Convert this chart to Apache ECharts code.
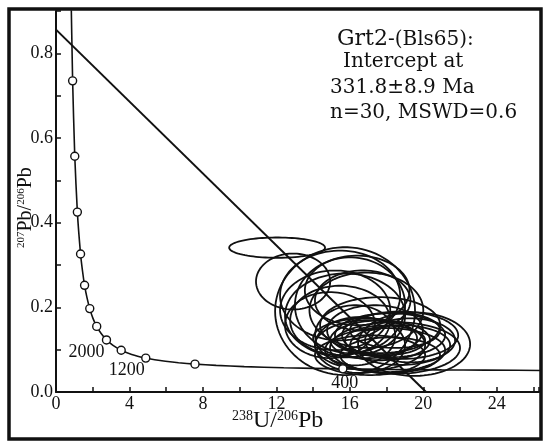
<!DOCTYPE html>
<html>
<head>
<meta charset="utf-8">
<script src="https://cdn.jsdelivr.net/npm/echarts@6/dist/echarts.min.js"></script>
<style>
html,body{margin:0;padding:0;background:#fff;}
#c{width:550px;height:447px;}
</style>
</head>
<body>
<div id="c"></div>
<script>
// Concordia curve points (238U/206Pb, 207Pb/206Pb)
const concordiaX = [0.806, 0.905, 1.022, 1.163, 1.337, 1.440, 1.556, 1.687, 1.838, 2.013, 2.217, 2.459, 2.749, 3.105, 3.550, 4.123, 4.888, 5.375, 5.959, 6.674, 7.568, 8.718, 10.25, 12.40, 15.62, 17.92, 20.99, 23.38, 27.0];
const concordiaY = [0.973, 0.735, 0.557, 0.425, 0.326, 0.287, 0.252, 0.223, 0.197, 0.174, 0.155, 0.138, 0.123, 0.110, 0.0987, 0.0888, 0.0801, 0.0762, 0.0725, 0.0690, 0.0658, 0.0628, 0.0599, 0.0572, 0.0547, 0.0535, 0.0523, 0.0517, 0.0508];
// Age markers (Ma) on the concordia
const ageLabels = [4800, 4400, 4000, 3600, 3200, 2800, 2400, 2000, 1600, 1200, 800, 400];
const ageX = [0.905, 1.022, 1.163, 1.337, 1.556, 1.838, 2.217, 2.749, 3.550, 4.888, 7.568, 15.62];
const ageY = [0.735, 0.557, 0.425, 0.326, 0.252, 0.197, 0.155, 0.123, 0.0987, 0.0801, 0.0658, 0.0547];
const shownAges = [2000, 1200, 400];
// Discordia line
const discordiaX = [0, 20.15];
const discordiaY = [0.856, 0];
// Error ellipses: centres and half-widths
const ellX = [12.04, 12.91, 15.74, 15.47, 16.01, 15.20, 16.40, 15.74, 16.70, 15.47, 16.90, 14.92, 19.50, 18.19, 17.65, 18.46, 17.10, 18.74, 17.92, 17.37, 16.56, 18.74, 18.19, 16.83, 19.28, 17.65, 16.29, 18.46, 17.10, 17.92];
const ellY = [0.341, 0.261, 0.191, 0.228, 0.205, 0.193, 0.240, 0.181, 0.216, 0.169, 0.193, 0.158, 0.113, 0.134, 0.122, 0.146, 0.111, 0.111, 0.099, 0.146, 0.111, 0.134, 0.087, 0.127, 0.122, 0.158, 0.134, 0.104, 0.087, 0.122];
const ellA = [2.61, 2.02, 3.81, 3.27, 3.00, 3.00, 2.85, 3.27, 2.60, 2.72, 3.10, 2.45, 3.05, 3.00, 2.72, 2.45, 3.00, 2.72, 3.27, 2.61, 2.45, 3.16, 2.72, 2.83, 2.45, 3.27, 2.18, 3.54, 3.00, 2.18];
const ellB = [0.024, 0.066, 0.151, 0.106, 0.113, 0.094, 0.082, 0.099, 0.071, 0.082, 0.089, 0.078, 0.075, 0.052, 0.047, 0.042, 0.059, 0.047, 0.052, 0.059, 0.066, 0.056, 0.042, 0.047, 0.052, 0.066, 0.071, 0.061, 0.047, 0.035];
// Axis ticks
const xLabelStep = 4;
const yLabelStep = 0.2;

const ellData = ellX.map((x, i) => [x, ellY[i], ellA[i], ellB[i]]);
const concData = concordiaX.map((x, i) => [x, concordiaY[i]]);
const discData = discordiaX.map((x, i) => [x, discordiaY[i]]);
const labelOffsets = {2000: [-20, 12], 1200: [-19, 12], 400: [2, 14]};
const ageData = ageX.map((x, i) => {
  const a = ageLabels[i];
  const item = {value: [x, ageY[i]], name: String(a)};
  if (shownAges.indexOf(a) >= 0) {
    item.label = {show: true, formatter: String(a), position: 'inside', offset: labelOffsets[a],
      fontFamily: 'Liberation Serif', fontSize: 18, color: '#111'};
  }
  return item;
});

const chart = echarts.init(document.getElementById('c'), null, {renderer: 'canvas'});
const serif = 'Liberation Serif';
chart.setOption({
  backgroundColor: '#ffffff',
  animation: false,
  grid: {left: 56, right: 11, top: 11, bottom: 55, show: false},
  xAxis: {
    type: 'value', min: 0, max: 26.3, interval: 2,
    axisLine: {lineStyle: {color: '#111', width: 2}},
    axisTick: {inside: true, length: 5, lineStyle: {color: '#111', width: 1.5}},
    splitLine: {show: false},
    axisLabel: {
      margin: 3, color: '#111', fontFamily: serif, fontSize: 18,
      formatter: v => (Math.abs(v / xLabelStep - Math.round(v / xLabelStep)) < 1e-6 ? String(Math.round(v)) : '')
    }
  },
  yAxis: {
    type: 'value', min: 0, max: 0.9, interval: 0.1,
    axisLine: {lineStyle: {color: '#111', width: 2}},
    axisTick: {inside: true, length: 5, lineStyle: {color: '#111', width: 1.5}},
    splitLine: {show: false},
    axisLabel: {
      margin: 3, color: '#111', fontFamily: serif, fontSize: 18,
      formatter: v => (Math.abs(v / yLabelStep - Math.round(v / yLabelStep)) < 1e-6 ? v.toFixed(1) : '')
    }
  },
  series: [
    {
      type: 'custom',
      data: ellData,
      z: 2,
      clip: true,
      renderItem: function (params, api) {
        const cx = api.value(0), cy = api.value(1), a = api.value(2), b = api.value(3);
        const pts = [];
        const N = 90;
        for (let k = 0; k < N; k++) {
          const t = 2 * Math.PI * k / N;
          pts.push(api.coord([cx + a * Math.cos(t), cy + b * Math.sin(t)]));
        }
        return {
          type: 'polygon',
          shape: {points: pts},
          style: {fill: 'none', stroke: '#111', lineWidth: 1.8}
        };
      }
    },
    {
      type: 'line', data: concData, smooth: 0.2, symbol: 'none', clip: true, z: 3,
      lineStyle: {color: '#111', width: 1.6}
    },
    {
      type: 'line', data: discData, symbol: 'none', clip: true, z: 4,
      lineStyle: {color: '#111', width: 2}
    },
    {
      type: 'scatter', data: ageData, symbol: 'circle', symbolSize: 8, z: 5,
      itemStyle: {color: '#fff', borderColor: '#111', borderWidth: 1.4, opacity: 1},
      label: {show: false}
    }
  ],
  graphic: [
    {type: 'rect', shape: {x: 9, y: 9, width: 532, height: 430}, style: {fill: 'none', stroke: '#111', lineWidth: 3.5}, z: 100},
    {type: 'text', left: 337, top: 28, z: 100, style: {
      text: '{a|Grt2}{b|-(Bls65):}', rich: {
        a: {fontFamily: 'DejaVu Serif', fontSize: 22, fill: '#111', verticalAlign: 'bottom'},
        b: {fontFamily: 'DejaVu Serif', fontSize: 20, fill: '#111', verticalAlign: 'bottom'}
      }}},
    {type: 'text', left: 343, top: 52, z: 100, style: {text: 'Intercept at', font: '20px "DejaVu Serif"', fill: '#111'}},
    {type: 'text', left: 330, top: 78, z: 100, style: {text: '331.8±8.9 Ma', font: '20px "DejaVu Serif"', fill: '#111'}},
    {type: 'text', left: 330, top: 103, z: 100, style: {text: 'n=30, MSWD=0.6', font: '20px "DejaVu Serif"', fill: '#111'}},
    {type: 'text', left: 232, top: 409, z: 100, style: {
      text: '{s|238}{m|U/}{s|206}{m|Pb}', rich: {
        s: {fontFamily: serif, fontSize: 14, fill: '#111', verticalAlign: 'top', lineHeight: 24},
        m: {fontFamily: serif, fontSize: 24, fill: '#111', verticalAlign: 'bottom', lineHeight: 24}
      }}},
    {type: 'text', x: 16, y: 248, rotation: Math.PI / 2, z: 100, style: {
      text: '{s|207}{m|Pb/}{s|206}{m|Pb}', rich: {
        s: {fontFamily: serif, fontSize: 11, fill: '#111', verticalAlign: 'top', lineHeight: 20},
        m: {fontFamily: serif, fontSize: 20, fill: '#111', verticalAlign: 'bottom', lineHeight: 20}
      }}}
  ]
});
</script>
</body>
</html>
